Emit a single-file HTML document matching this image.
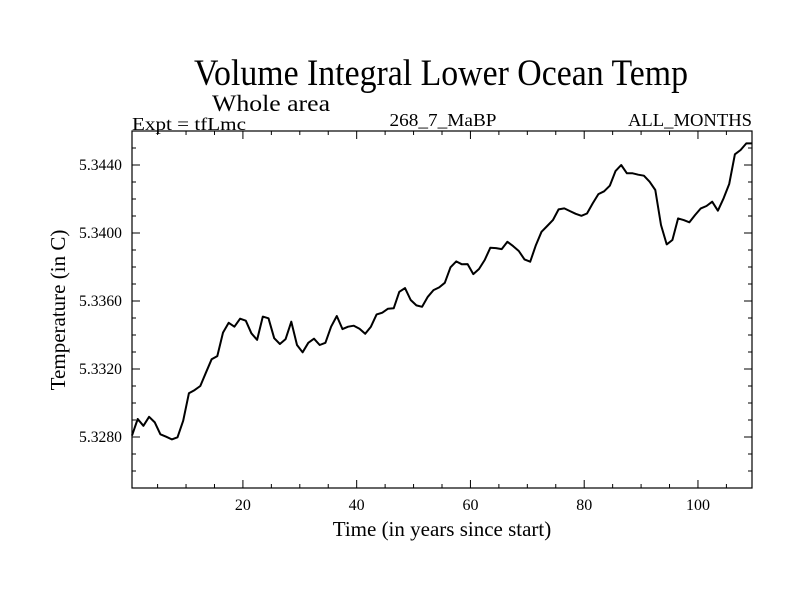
<!DOCTYPE html>
<html><head><meta charset="utf-8"><style>
html,body{margin:0;padding:0;background:#fff;}
svg{display:block;font-family:"Liberation Serif",serif;}
</style></head><body>
<svg id="chart" width="800" height="600" viewBox="0 0 800 600" xmlns="http://www.w3.org/2000/svg">
<rect width="800" height="600" fill="#fff"/>
<text x="441" y="85" font-size="37" text-anchor="middle" textLength="494" lengthAdjust="spacingAndGlyphs">Volume Integral Lower Ocean Temp</text>
<text x="212" y="111" font-size="23" textLength="118" lengthAdjust="spacingAndGlyphs">Whole area</text>
<text x="132" y="130" font-size="18" textLength="114" lengthAdjust="spacingAndGlyphs">Expt = tfLmc</text>
<text x="443" y="126" font-size="18" text-anchor="middle" textLength="107" lengthAdjust="spacingAndGlyphs">268_7_MaBP</text>
<text x="752" y="126" font-size="18" text-anchor="end" textLength="124" lengthAdjust="spacingAndGlyphs">ALL_MONTHS</text>
<g id="axes"></g>
<text x="442" y="536" font-size="21" text-anchor="middle">Time (in years since start)</text>
<text transform="translate(65,310) rotate(-90)" font-size="21" text-anchor="middle">Temperature (in C)</text>
</svg>
<script>
const years = [];
for (let i = 0; i < 110; i++) years.push(i + 0.5);
const temps = [
5.32808,5.32906,5.32866,5.32919,5.32886,5.32816,5.32802,5.32786,5.32798,5.32896,
5.33057,5.33076,5.33100,5.33178,5.33257,5.33276,5.33414,5.33472,5.33449,5.33496,
5.33484,5.33410,5.33371,5.33508,5.33498,5.33381,5.33347,5.33376,5.33478,5.33341,
5.33298,5.33354,5.33378,5.33341,5.33354,5.33449,5.33512,5.33435,5.33449,5.33455,
5.33437,5.33407,5.33449,5.33521,5.33531,5.33555,5.33557,5.33654,5.33676,5.33606,
5.33574,5.33566,5.33625,5.33664,5.33680,5.33707,5.33798,5.33833,
5.33816,5.33817,5.33758,5.33788,5.33841,5.33913,5.33911,5.33905,5.33948,5.33923,
5.33894,5.33845,5.33831,5.33929,5.34007,5.34041,5.34076,5.34139,5.34145,5.34129,
5.34113,5.34101,5.34115,5.34174,5.34229,5.34245,5.34278,5.34364,
5.34400,5.34351,5.34351,5.34343,5.34337,5.34302,5.34253,5.34047,5.33933,5.33959,
5.34086,5.34076,5.34063,5.34106,5.34145,5.34159,5.34184,5.34131,5.34204,5.34288,
5.34463,5.34488,5.34527,5.34527
];
const xMajorTicks = [20, 40, 60, 80, 100];
const yMajorTicks = [5.328, 5.332, 5.336, 5.340, 5.344];
const yTickLabels = ["5.3280", "5.3320", "5.3360", "5.3400", "5.3440"];

const X0 = 132, X1 = 752, Y0 = 131, Y1 = 488;
const xMin = 0.5, xMax = 109.5, yMin = 5.3250, yMax = 5.3460;
const sx = v => X0 + (v - xMin) / (xMax - xMin) * (X1 - X0);
const sy = v => Y1 - (v - yMin) / (yMax - yMin) * (Y1 - Y0);
const NS = "http://www.w3.org/2000/svg";
const g = document.getElementById('axes');
function mk(tag, attrs) {
  const e = document.createElementNS(NS, tag);
  for (const k in attrs) e.setAttribute(k, attrs[k]);
  g.appendChild(e);
  return e;
}
for (let v = 5; v < xMax; v += 5) {
  const major = v % 20 === 0;
  const len = major ? 8 : 4;
  const x = sx(v);
  const t1 = mk('line', {x1: x, x2: x, y1: Y1, y2: Y1 - len, stroke: '#000', 'stroke-width': 1});
  
  
  const t2 = mk('line', {x1: x, x2: x, y1: Y0, y2: Y0 + len, stroke: '#000', 'stroke-width': 1});
  
  
}
xMajorTicks.forEach(v => {
  const t = mk('text', {x: sx(v), y: 510, 'font-size': 16, 'text-anchor': 'middle'});
  t.textContent = String(v);
  
  
});
for (let k = 1; k < 21; k++) {
  const v = yMin + k * 0.001;
  const major = (k - 3) % 4 === 0;
  const len = major ? 8 : 4;
  const y = sy(v);
  const t1 = mk('line', {x1: X0, x2: X0 + len, y1: y, y2: y, stroke: '#000', 'stroke-width': 1});
  
  
  const t2 = mk('line', {x1: X1, x2: X1 - len, y1: y, y2: y, stroke: '#000', 'stroke-width': 1});
  
  
}
yMajorTicks.forEach((v, i) => {
  const t = mk('text', {x: 122, y: sy(v) + 5, 'font-size': 16, 'text-anchor': 'end', textLength: 43, lengthAdjust: 'spacingAndGlyphs'});
  t.textContent = yTickLabels[i];
  
  
});
const frame = mk('rect', {x: X0, y: Y0, width: X1 - X0, height: Y1 - Y0, fill: 'none', stroke: '#000', 'stroke-width': 1.2});


const pts = years.map((yr, i) => sx(yr).toFixed(1) + ',' + sy(temps[i]).toFixed(1)).join(' ');
const line = mk('polyline', {points: pts, fill: 'none', stroke: '#000', 'stroke-width': 2, 'stroke-linejoin': 'round'});


</script>
</body></html>
